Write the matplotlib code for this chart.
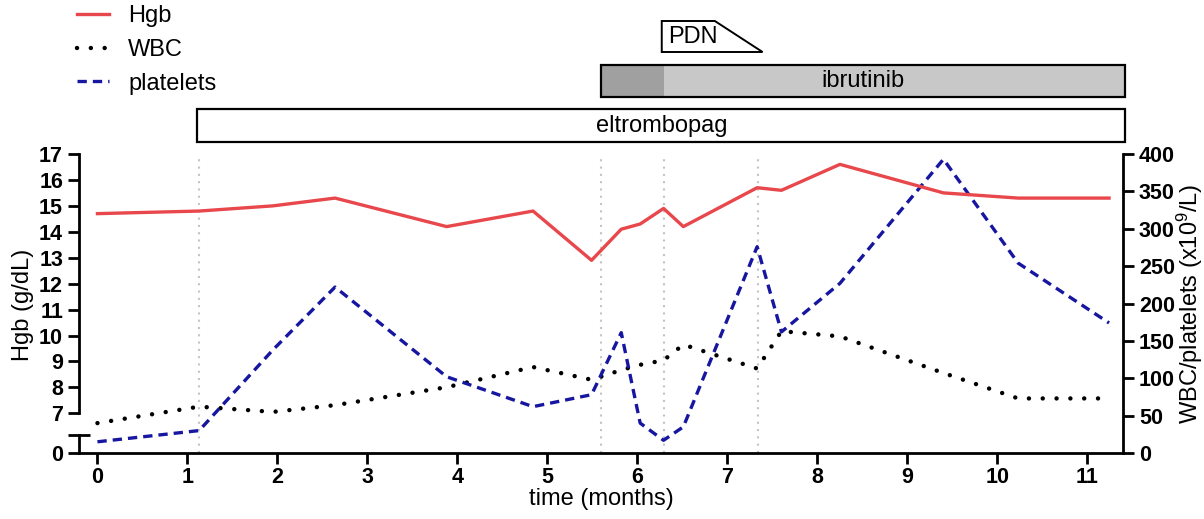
import matplotlib
matplotlib.use('Agg')
import matplotlib.pyplot as plt
from matplotlib.patches import Rectangle, Polygon
from matplotlib.lines import Line2D

plt.rcParams['font.family'] = ['Liberation Sans', 'DejaVu Sans']
plt.rcParams['mathtext.fontset'] = 'custom'
plt.rcParams['mathtext.rm'] = 'Liberation Sans'
plt.rcParams['mathtext.it'] = 'Liberation Sans:italic'

# values
months = [0, 1.13, 1.95, 2.64, 3.88, 4.84, 5.49, 5.82, 6.03, 6.29, 6.51,
          7.33, 7.6, 8.25, 9.4, 10.23, 11.24]
hgb = [14.7, 14.8, 15.0, 15.3, 14.2, 14.8, 12.9, 14.1, 14.3, 14.9, 14.2,
       15.7, 15.6, 16.6, 15.5, 15.3, 15.3]
wbc = [40, 62, 55, 64, 88, 115, 98, 111, 118, 124, 145,
       113, 163, 156, 107, 73, 73]
platelets = [15, 30, 138, 222, 102, 62, 78, 161, 40, 17, 35,
             276, 162, 227, 393, 254, 174]
event_months = [1.13, 5.6, 6.29, 7.34]

# treatment periods (months)
eltrombopag = (1.11, 11.42)
ibrutinib = (5.59, 11.42)
ibrutinib_first = (5.59, 6.29)
pdn = (6.27, 6.86, 7.39)  # start, taper start, end

hgb_ticks = list(range(7, 18))
count_ticks = list(range(0, 401, 50))
month_ticks = list(range(0, 12))

RED = '#E8474C'
BLUE = '#1616A0'

W, H = 1204, 519
fig = plt.figure(figsize=(W / 100, H / 100), dpi=100)


def box(l, t, r, b):
    return [l / W, 1 - b / H, (r - l) / W, (b - t) / H]


XL = (-0.205, 11.395)
tick_kw = dict(length=8, width=2, labelsize=15.5)

## WBC / platelets axis (right) + time axis
ax = fig.add_axes(box(79, 154, 1123, 453))
ax.set_xlim(*XL)
ax.set_ylim(0, 400)
for s in ['left', 'top']:
    ax.spines[s].set_visible(False)
for s in ['right', 'bottom']:
    ax.spines[s].set_linewidth(2)
ax.yaxis.tick_right()
ax.set_yticks(count_ticks)
ax.set_xticks(month_ticks)
ax.tick_params(**tick_kw)
ax.tick_params(axis='x', pad=2)
for lab in ax.get_xticklabels() + ax.get_yticklabels():
    lab.set_fontweight('bold')
ax.set_xlabel('time (months)', fontsize=17, labelpad=0)
for m in event_months:
    ax.axvline(m, color='#C4C4C4', lw=1.5, ls=(0, (1, 2.5)), zorder=0)
ax.plot(months, wbc, color='black', lw=3.2, ls=(0, (0.01, 3.1)),
        dash_capstyle='round', label='WBC')
ax.plot(months, platelets, color=BLUE, lw=2.4, ls=(0, (2.8, 1.8)),
        label='platelets')
fig.text(1190 / W, 1 - 304 / H, 'WBC/platelets (x10$^{9}$/L)', rotation=90,
         ha='center', va='center', fontsize=17)

## Hgb axis (left, broken)
ax_up = fig.add_axes(box(79, 154, 1123, 413.3))
ax_up.set_xlim(*XL)
ax_up.set_ylim(7, 17)
ax_up.patch.set_visible(False)
for s in ['right', 'top', 'bottom']:
    ax_up.spines[s].set_visible(False)
ax_up.spines['left'].set_linewidth(2)
ax_up.xaxis.set_visible(False)
ax_up.set_yticks(hgb_ticks)
ax_up.set_yticks([7], minor=True)
ax_up.tick_params(**tick_kw)
ax_up.tick_params(which='minor', direction='inout', length=16, width=2)
for lab in ax_up.get_yticklabels():
    lab.set_fontweight('bold')
ax_up.plot(months, hgb, color=RED, lw=2.4, label='Hgb')

ax_low = fig.add_axes(box(79, 435, 1123, 453))
ax_low.set_xlim(*XL)
ax_low.set_ylim(0, 0.7)
ax_low.patch.set_visible(False)
for s in ['right', 'top', 'bottom']:
    ax_low.spines[s].set_visible(False)
ax_low.spines['left'].set_linewidth(2)
ax_low.xaxis.set_visible(False)
ax_low.set_yticks([0])
ax_low.set_yticks([0.7], minor=True)
ax_low.tick_params(**tick_kw)
ax_low.tick_params(which='minor', direction='inout', length=16, width=2)
for lab in ax_low.get_yticklabels():
    lab.set_fontweight('bold')

fig.text(23 / W, 1 - 305 / H, 'Hgb (g/dL)', rotation=90,
         ha='center', va='center', fontsize=17)

## Treatment bars
ax_tx = fig.add_axes(box(79, 0, 1123, 150))
ax_tx.set_xlim(*XL)
ax_tx.set_ylim(150, 0)
ax_tx.axis('off')
ax_tx.add_patch(Rectangle((eltrombopag[0], 109), eltrombopag[1] - eltrombopag[0], 33,
                          facecolor='white', edgecolor='black', lw=1.6, clip_on=False))
ax_tx.text(sum(eltrombopag) / 2, 126, 'eltrombopag', ha='center', va='center', fontsize=17)
ax_tx.add_patch(Rectangle((ibrutinib[0], 65), ibrutinib[1] - ibrutinib[0], 32,
                          facecolor='#C8C8C8', edgecolor='none', clip_on=False))
ax_tx.add_patch(Rectangle((ibrutinib_first[0], 65), ibrutinib_first[1] - ibrutinib_first[0], 32,
                          facecolor='#A0A0A0', edgecolor='none', clip_on=False))
ax_tx.add_patch(Rectangle((ibrutinib[0], 65), ibrutinib[1] - ibrutinib[0], 32,
                          facecolor='none', edgecolor='black', lw=1.6, clip_on=False))
ax_tx.text(sum(ibrutinib) / 2, 81, 'ibrutinib', ha='center', va='center', fontsize=17)
ax_tx.add_patch(Polygon([(pdn[0], 52), (pdn[0], 21), (pdn[1], 21), (pdn[2], 52)],
                        closed=True, facecolor='white', edgecolor='black', lw=1.4,
                        clip_on=False))
ax_tx.text(pdn[0] + 0.07, 37, 'PDN', ha='left', va='center', fontsize=17)

## Legend
handles = [Line2D([], [], color=RED, lw=2.4),
           Line2D([], [], color='black', lw=3.2, ls=(0, (0.01, 3.1)), dash_capstyle='round'),
           Line2D([], [], color=BLUE, lw=2.4, ls=(0, (2.8, 1.8)))]
fig.legend(handles, ['Hgb', 'WBC', 'platelets'], loc='upper left',
           bbox_to_anchor=(77 / W, 1 - 5 / H), frameon=False, fontsize=17,
           borderpad=0, borderaxespad=0, handlelength=1.36, handletextpad=0.8,
           labelspacing=0.5)

fig.savefig('out.png', dpi=100)
